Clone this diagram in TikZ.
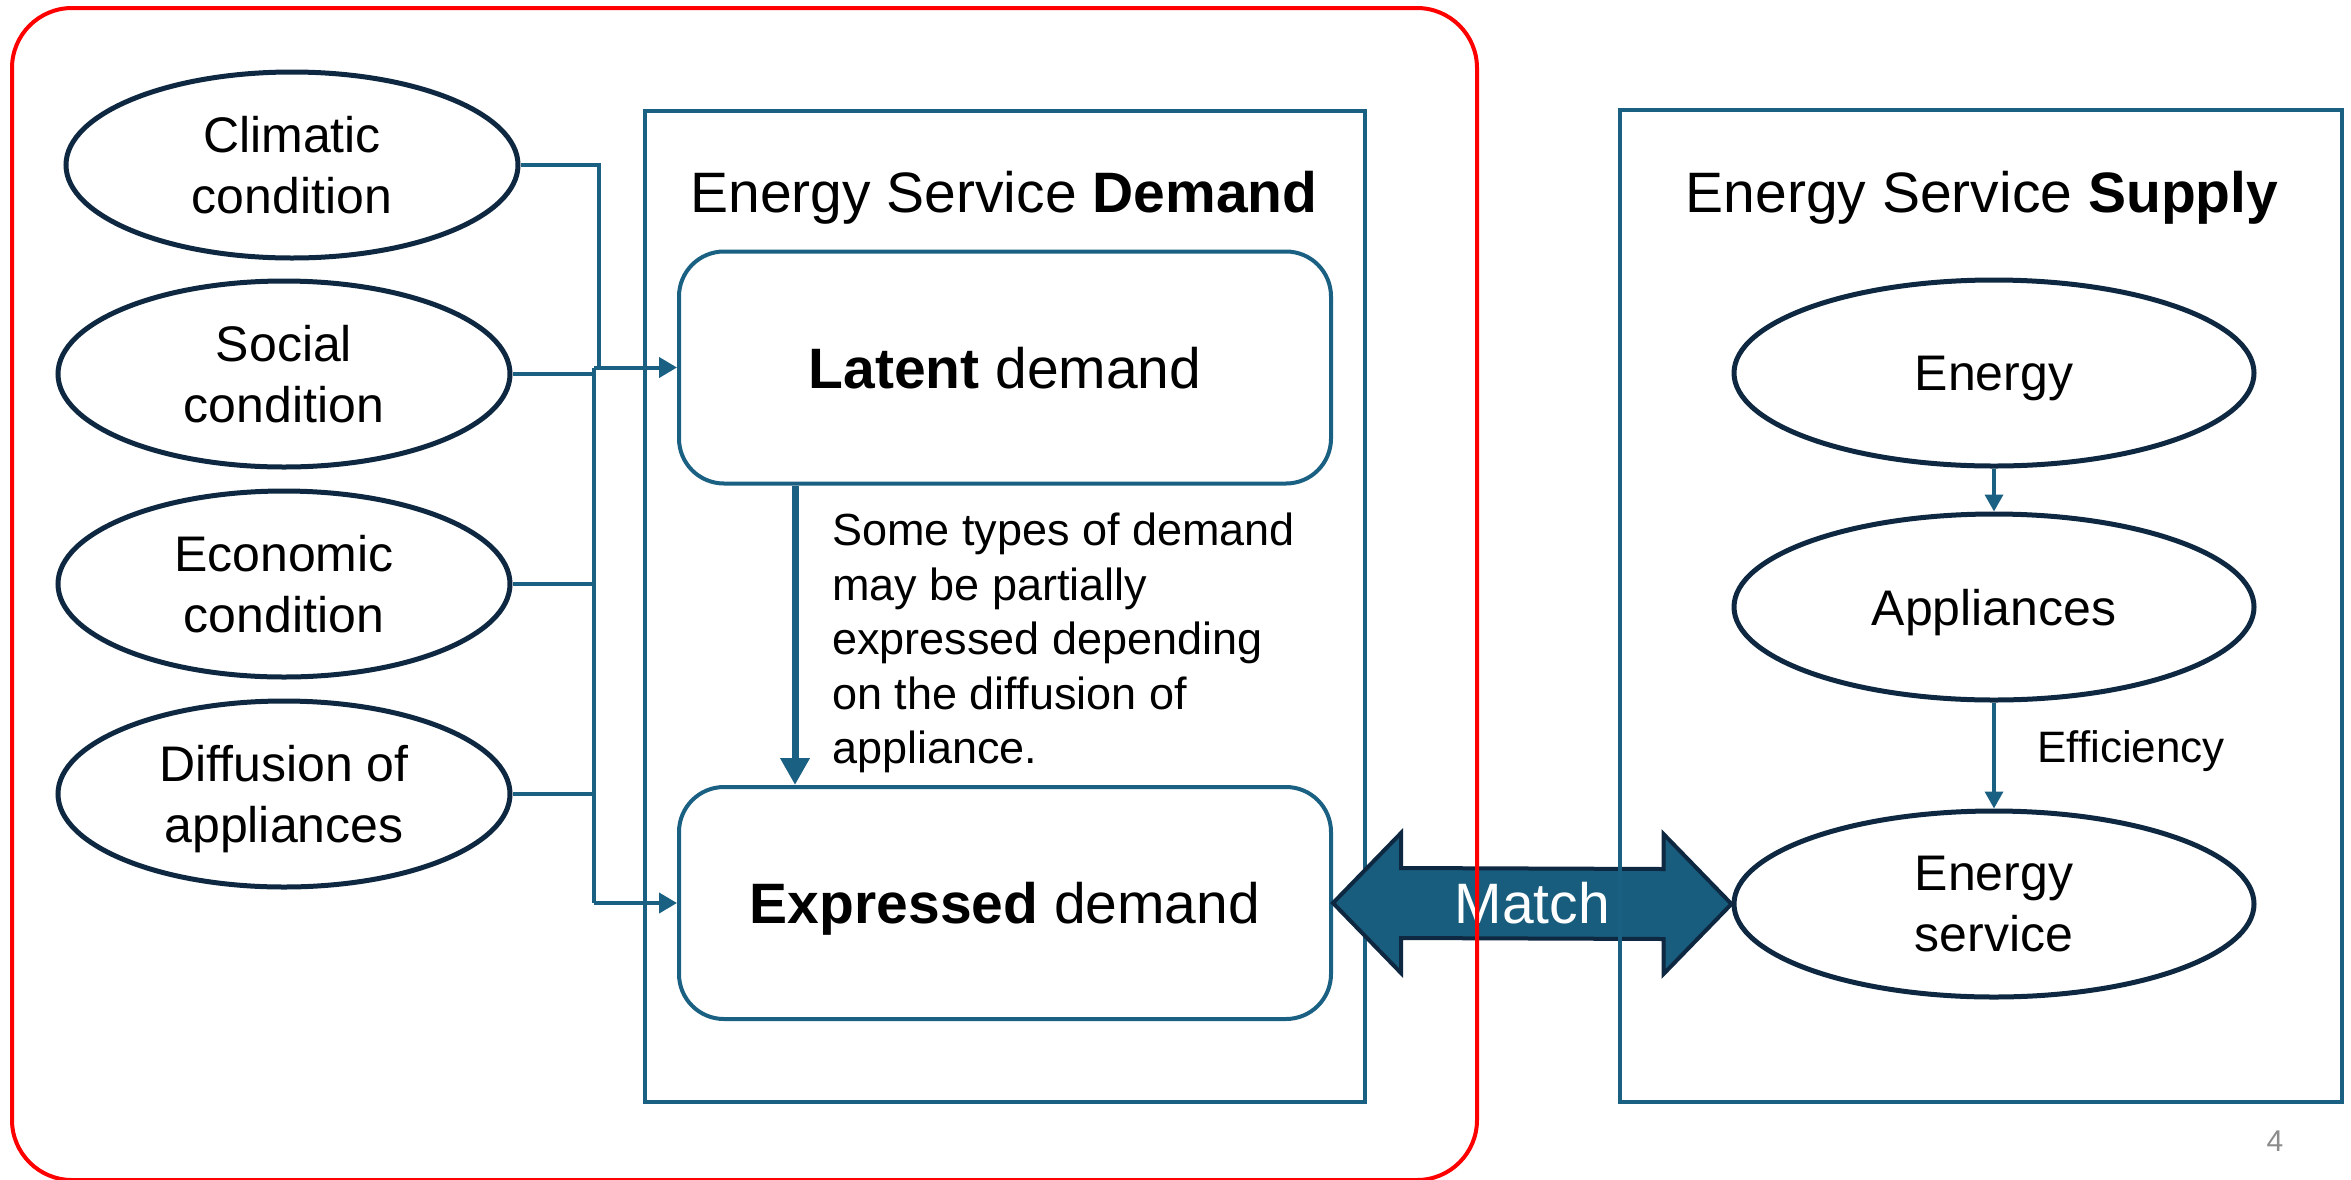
\documentclass[tikz,border=0pt]{standalone}
\usepackage{fontspec}
\setmainfont{Liberation Sans}
\usetikzlibrary{arrows.meta,shapes.geometric,calc}
\definecolor{bline}{HTML}{1A6082}
\definecolor{navy}{HTML}{0E2841}
\definecolor{mfill}{HTML}{185D7D}
\definecolor{pgray}{HTML}{8C8C8C}
\begin{document}
\begin{tikzpicture}[x=1pt,y=-1pt,
  oval/.style={ellipse, draw=navy, line width=5pt, inner sep=0pt,
    minimum width=452pt, minimum height=186pt, align=center,
    font=\fontsize{50}{61}\selectfont, text depth=0pt},
  bigbox/.style={draw=bline, line width=4pt, inner sep=0pt},
  rbox/.style={draw=bline, line width=4pt, rounded corners=45pt, inner sep=0pt,
    minimum width=652pt, minimum height=232pt,
    font=\fontsize{57}{68}\selectfont, text depth=0pt},
  titletext/.style={anchor=base, inner sep=0pt, font=\fontsize{57}{68}\selectfont},
  conn/.style={draw=bline, line width=4pt},
  thin/.style={draw=bline, line width=3.5pt},
  tipA/.style={-{Triangle[length=18pt,width=20pt]}},
]
\useasboundingbox (0,0) rectangle (2351,1179);

% demand box
\node[bigbox, minimum width=720pt, minimum height=991pt] (dbox) at (1005,606.5) {};
\node[titletext] (dtitle) at (1004,212) {Energy Service \textbf{Demand}};
\node[rbox] (lat) at (1005,367.5) {\textbf{Latent} demand};
\node[rbox] (exp) at (1005,903) {\textbf{Expressed} demand};
\draw[draw=bline, line width=7pt, -{Triangle[length=27pt,width=28pt]}]
  ($(lat.south west)+(118,0)$) -- ($(exp.north west)+(118,0)$);
\node[anchor=north west, align=left, inner sep=0pt,
  font=\fontsize{45}{54.5}\selectfont] (note) at (832,513)
  {Some types of demand\\may be partially\\expressed depending\\on the diffusion of\\appliance.};

% left ovals
\node[oval] (clim) at (292,165) {Climatic\\condition};
\node[oval] (soc) at (284,374) {Social\\condition};
\node[oval] (eco) at (284,584) {Economic\\condition};
\node[oval] (dif) at (284,794) {Diffusion of\\appliances};

\coordinate (j1) at (594,367.5);
\coordinate (j2) at (594,903);
\draw[conn] (clim.east) -| ($(j1)+(5,0)$);
\draw[conn] (soc.east) -- (soc.east -| j1);
\draw[conn] (eco.east) -- (eco.east -| j1);
\draw[conn] (dif.east) -- (dif.east -| j1);
\draw[conn] (j1) -- (j2);
\draw[conn, tipA] (j1) -- (lat.west);
\draw[conn, tipA] (j2) -- (exp.west);

% supply side nodes
\node[oval, minimum width=520pt] (en) at (1994,373) {Energy};
\node[oval, minimum width=520pt] (app) at (1994,607) {Appliances};
\node[oval, minimum width=520pt] (esv) at (1994,904) {Energy\\service};
\draw[thin, -{Triangle[length=17pt,width=18pt]}] (en) -- (app);
\draw[thin, -{Triangle[length=17pt,width=18pt]}] (app) -- (esv);
\node[anchor=base west, inner sep=0pt, font=\fontsize{44}{53}\selectfont] (eff) at (2037,762) {Efficiency};

% match double arrow
\coordinate (mL) at (exp.east);
\coordinate (mR) at (esv.west);
\draw[fill=mfill, draw=navy, line width=4pt, line join=miter]
  (mL) -- ++(68,-70) -- ++(0,35) -- ($(mR)+(-68,-35)$) -- ++(0,-35) -- (mR)
  -- ++(-68,70) -- ++(0,-35) -- ($(mL)+(68,35)$) -- ++(0,35) -- cycle;
\node[text=white, inner sep=0pt, font=\fontsize{57}{68}\selectfont] (match)
  at ($(mL)!0.5!(mR)$) {Match};

% supply box
\node[bigbox, minimum width=722pt, minimum height=992pt] (sbox) at (1981,606) {};
\node[titletext] (stitle) at (1982,212) {Energy Service \textbf{Supply}};

% red frame
\node[draw=red, line width=4pt, rounded corners=60pt, inner sep=0pt,
  minimum width=1465pt, minimum height=1172pt] (frame) at (744.5,594) {};

% page number
\node[text=pgray, inner sep=0pt, font=\fontsize{30}{36}\selectfont] (pg) at (2275,1141) {4};
\end{tikzpicture}
\end{document}
